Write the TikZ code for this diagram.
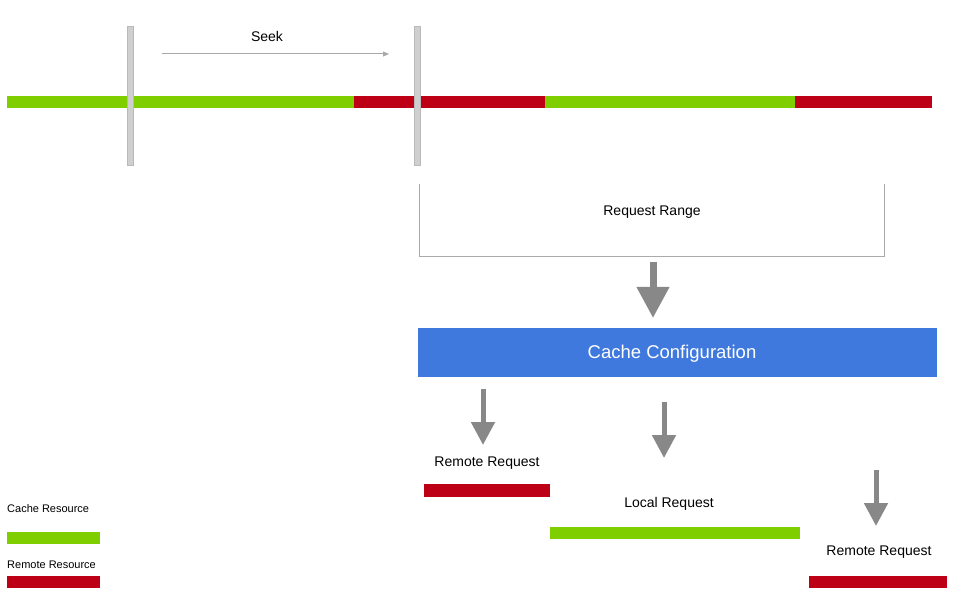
\documentclass[tikz,border=0pt]{standalone}
\usepackage{fontspec}
\setmainfont{Liberation Sans}
\usetikzlibrary{arrows.meta}
\definecolor{cgreen}{RGB}{126,206,0}
\definecolor{cred}{RGB}{190,0,22}
\definecolor{cblue}{RGB}{64,121,221}
\definecolor{cgray}{RGB}{136,136,136}
\definecolor{cbar}{RGB}{207,207,207}
\definecolor{cbarb}{RGB}{185,185,185}
\definecolor{cline}{RGB}{170,170,170}
\begin{document}
\begin{tikzpicture}[x=1pt,y=-1pt,
  seg/.style={inner sep=0pt,outer sep=0pt,anchor=north west,minimum height=#1},
  greenbar/.style={seg=12pt,fill=cgreen},
  redbar/.style={seg=12pt,fill=cred},
  marker/.style={inner sep=0pt,outer sep=0pt,anchor=north west,fill=cbar,draw=cbarb,line width=0.6pt,minimum width=6pt,minimum height=139pt},
  lbl/.style={inner sep=0pt,font=\fontsize{14}{16}\selectfont},
  small/.style={inner sep=0pt,anchor=west,font=\fontsize{11}{13}\selectfont},
  bigarrow/.style={draw=cgray,line width=7pt,-{Triangle[width=31pt,length=31pt]}},
  midarrow/.style={draw=cgray,line width=5pt,-{Triangle[width=23pt,length=23pt]}},
  thinarrow/.style={draw=cline,line width=1pt,-{Triangle[width=5pt,length=6pt]}}
]
\useasboundingbox (0,0) rectangle (961,612);
% main timeline
\node[greenbar,minimum width=347pt] (g1) at (7,96) {};
\node[redbar,minimum width=191pt] (r1) at (354,96) {};
\node[greenbar,minimum width=250pt] (g2) at (545,96) {};
\node[redbar,minimum width=137pt] (r2) at (795,96) {};
% seek markers
\node[marker] (m1) at (127,26) {};
\node[marker] (m2) at (414.5,26) {};
% seek arrow
\coordinate (s1) at (162,54);
\coordinate (s2) at (389,54);
\draw[thinarrow] (s1) -- (s2);
\node[lbl] (seek) at (267,36.5) {Seek};
% request range bracket
\coordinate (b1) at (419.5,184);
\coordinate (b2) at (884,184);
\draw[cline,line width=1pt] (b1) |- (b2 |- 0,257) -- (b2);
\node[lbl] (rr) at (652,212.5) {Request Range};
% arrow to cache config
\coordinate (a1s) at (653,262);
\coordinate (a1e) at (653,318);
\draw[bigarrow] (a1s) -- (a1e);
% cache configuration
\node[inner sep=0pt,anchor=north west,fill=cblue,minimum width=519pt,minimum height=49pt] (cc) at (418,328) {};
\node[text=white,inner sep=0pt,font=\fontsize{18.5}{20}\selectfont] (cct) at (672,354) {Cache Configuration};
% outputs
\coordinate (o1s) at (483,389);
\coordinate (o1e) at (483,445);
\draw[midarrow] (o1s) -- (o1e);
\node[lbl] (rq1) at (487,463.5) {Remote Request};
\node[redbar,seg=13pt,minimum width=126pt] (rb1) at (424,484) {};

\coordinate (o2s) at (664,402);
\coordinate (o2e) at (664,458);
\draw[midarrow] (o2s) -- (o2e);
\node[lbl] (lq) at (669,503.5) {Local Request};
\node[greenbar,minimum width=250pt] (gb) at (550,527) {};

\coordinate (o3s) at (876,470);
\coordinate (o3e) at (876,526);
\draw[midarrow] (o3s) -- (o3e);
\node[lbl] (rq2) at (879,552.5) {Remote Request};
\node[redbar,minimum width=138pt] (rb2) at (809,576) {};
% legend
\node[small] (lc) at (7,509) {Cache Resource};
\node[greenbar,minimum width=93pt] (lg) at (7,532) {};
\node[small] (lr) at (7,565) {Remote Resource};
\node[redbar,minimum width=93pt] (lrb) at (7,576) {};
\end{tikzpicture}
\end{document}
